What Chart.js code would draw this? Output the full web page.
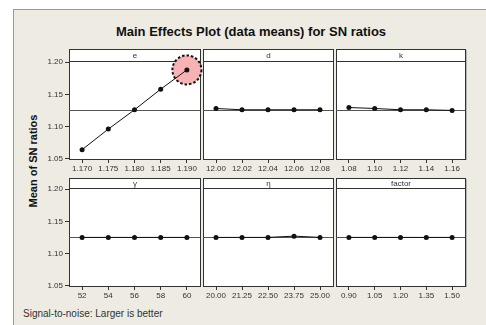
<!DOCTYPE html>
<html>
<head>
<meta charset="utf-8">
<script src="https://cdn.jsdelivr.net/npm/chart.js@4.4.1/dist/chart.umd.min.js"></script>
<style>
  html, body { margin: 0; padding: 0; background: #fff; }
  #wrap { position: relative; width: 486px; height: 325px; overflow: hidden; background: #fff; }
  #frame { position: absolute; left: 13px; top: 9px; width: 480px; height: 320px;
           background: #eeebe2; border-left: 1px solid #9a9a9a; border-top: 1px solid #9a9a9a; }
  #title { position: absolute; left: 0; width: 502px; top: 24px; text-align: center;
           font: bold 13px "Liberation Sans", Arial, sans-serif; color: #111; }
  #ytitle { position: absolute; left: 33px; top: 161px; transform: translate(-50%, -50%) rotate(-90deg);
            white-space: nowrap; font: bold 11px "Liberation Sans", Arial, sans-serif; color: #111; }
  #foot { position: absolute; left: 23px; top: 308px;
          font: 10px "Liberation Sans", Arial, sans-serif; color: #333; }
  canvas { position: absolute; }
</style>
</head>
<body>
<div id="wrap">
  <div id="frame"></div>
  <div id="title">Main Effects Plot (data means) for SN ratios</div>
  <div id="ytitle">Mean of SN ratios</div>
  <div id="foot">Signal-to-noise: Larger is better</div>
</div>
<script>
// 각 인자의 수준과 SN비 평균
const eLevels = ['1.170', '1.175', '1.180', '1.185', '1.190'];
const eMeans = [1.064, 1.096, 1.126, 1.158, 1.188];
const dLevels = ['12.00', '12.02', '12.04', '12.06', '12.08'];
const dMeans = [1.128, 1.126, 1.126, 1.126, 1.126];
const kLevels = ['1.08', '1.10', '1.12', '1.14', '1.16'];
const kMeans = [1.1295, 1.128, 1.126, 1.126, 1.125];
const gammaLevels = ['52', '54', '56', '58', '60'];
const gammaMeans = [1.125, 1.125, 1.125, 1.125, 1.125];
const etaLevels = ['20.00', '21.25', '22.50', '23.75', '25.00'];
const etaMeans = [1.125, 1.125, 1.125, 1.127, 1.125];
const factorLevels = ['0.90', '1.05', '1.20', '1.35', '1.50'];
const factorMeans = [1.125, 1.125, 1.125, 1.125, 1.125];
const yTicks = [1.05, 1.10, 1.15, 1.20];

// 전체 평균 (기준선)
const grandMean = eMeans.reduce((a, b) => a + b, 0) / eMeans.length;

const panels = [
    { name: 'e', levels: eLevels, means: eMeans, col: 0, row: 0, highlight: true },
    { name: 'd', levels: dLevels, means: dMeans, col: 1, row: 0 },
    { name: 'k', levels: kLevels, means: kMeans, col: 2, row: 0 },
    { name: 'γ', levels: gammaLevels, means: gammaMeans, col: 0, row: 1 },
    { name: 'η', levels: etaLevels, means: etaMeans, col: 1, row: 1 },
    { name: 'factor', levels: factorLevels, means: factorMeans, col: 2, row: 1 },
];

// 패널 배치
const colEdges = [69, 201, 334, 466];
const rowTops = [49, 178];
const stripH = [12, 10];
const plotBottoms = [159, 286];
const tickFont = { family: '"Liberation Sans", Arial, sans-serif', size: 8 };

// 패널 상자, 제목 띠, 기준선, 강조 원
const panelPlugin = {
    id: 'panelBox',
    beforeDraw(chart, args, opts) {
        const { ctx, chartArea: a } = chart;
        const top = a.top - opts.strip;
        ctx.save();
        ctx.fillStyle = '#fff';
        ctx.fillRect(a.left, top, a.right - a.left, a.bottom - top);
        ctx.strokeStyle = '#333';
        ctx.lineWidth = 1;
        ctx.strokeRect(a.left + 0.5, top + 0.5, a.right - a.left, a.bottom - top);
        ctx.beginPath();
        ctx.moveTo(a.left, a.top + 0.5);
        ctx.lineTo(a.right + 1, a.top + 0.5);
        ctx.stroke();
        if (opts.lastCol) {
            ctx.strokeStyle = '#b5b5b5';
            ctx.beginPath();
            ctx.moveTo(a.right + 1.5, top + 1);
            ctx.lineTo(a.right + 1.5, a.bottom + 1);
            ctx.stroke();
        }
        ctx.fillStyle = '#333';
        ctx.font = '8px "Liberation Sans", Arial, sans-serif';
        ctx.textAlign = 'center';
        ctx.textBaseline = 'middle';
        ctx.fillText(opts.label, (a.left + a.right) / 2 + 0.5, top + opts.strip / 2 + 0.5);
        ctx.restore();
    },
    beforeDatasetsDraw(chart, args, opts) {
        const { ctx, chartArea: a } = chart;
        const y = Math.round(chart.scales.y.getPixelForValue(grandMean)) + 0.5;
        ctx.save();
        ctx.strokeStyle = '#555';
        ctx.lineWidth = 1;
        ctx.beginPath();
        ctx.moveTo(a.left, y);
        ctx.lineTo(a.right, y);
        ctx.stroke();
        if (opts.highlight) {
            const pts = chart.getDatasetMeta(0).data;
            const p = pts[pts.length - 1];
            ctx.beginPath();
            ctx.arc(p.x, p.y, 14.5, 0, Math.PI * 2);
            ctx.fillStyle = '#f7b3b3';
            ctx.fill();
            ctx.setLineDash([2.5, 2]);
            ctx.lineWidth = 2;
            ctx.strokeStyle = '#111';
            ctx.stroke();
        }
        ctx.restore();
    },
};

const wrap = document.getElementById('wrap');

panels.forEach((p) => {
    const L = p.col === 0 ? 30 : 2;
    const R = 3;
    const colW = colEdges[p.col + 1] - colEdges[p.col];
    const top = rowTops[p.row];
    const canvas = document.createElement('canvas');
    canvas.width = colW + L + R;
    canvas.height = plotBottoms[p.row] - top + 20;
    canvas.style.left = (colEdges[p.col] - L) + 'px';
    canvas.style.top = top + 'px';
    wrap.appendChild(canvas);

    new Chart(canvas.getContext('2d'), {
        type: 'line',
        data: {
            labels: p.levels,
            datasets: [
                {
                    data: p.means,
                    borderColor: '#111',
                    borderWidth: 1,
                    pointRadius: 2.5,
                    pointBackgroundColor: '#111',
                    pointBorderWidth: 0,
                    tension: 0,
                    clip: false,
                },
            ],
        },
        options: {
            responsive: false,
            animation: false,
            devicePixelRatio: 1,
            layout: {
                padding: { top: stripH[p.row], left: p.col === 0 ? 3 : L, right: R, bottom: 0 },
            },
            scales: {
                x: {
                    type: 'category',
                    offset: true,
                    grid: { display: true, offset: false, drawOnChartArea: false, drawTicks: true, tickLength: 4, color: '#333' },
                    border: { display: false },
                    ticks: { font: tickFont, color: '#333', padding: 1, maxRotation: 0, autoSkip: false },
                    afterFit: (s) => { s.height = 20; },
                },
                y: {
                    display: p.col === 0,
                    min: 1.0495,
                    max: 1.2018,
                    grid: { display: true, drawOnChartArea: false, drawTicks: true, tickLength: 4, color: '#333' },
                    border: { display: false },
                    afterBuildTicks: (s) => { s.ticks = yTicks.map((v) => ({ value: v })); },
                    ticks: { font: tickFont, color: '#333', padding: 2, callback: (v) => Number(v).toFixed(2) },
                    afterFit: (s) => { s.width = p.col === 0 ? 27 : 0; },
                },
            },
            plugins: {
                legend: { display: false },
                tooltip: { enabled: false },
                panelBox: {
                    strip: stripH[p.row],
                    label: p.name,
                    highlight: !!p.highlight,
                    lastCol: p.col === 2,
                },
            },
        },
        plugins: [panelPlugin],
    });
});
</script>
</body>
</html>
